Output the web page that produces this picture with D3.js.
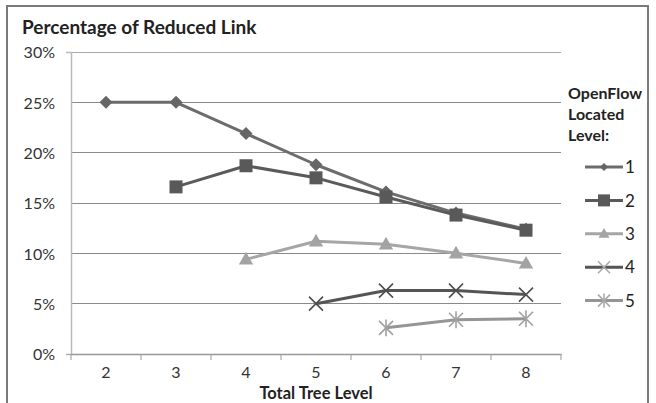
<!DOCTYPE html>
<html>
<head>
<meta charset="utf-8">
<script src="https://cdn.jsdelivr.net/npm/d3@7"></script>
<style>
  body { margin: 0; background: #fff; }
  text { font-family: Lato, "Open Sans", sans-serif; fill: #222; }
  .title { font-weight: bold; font-size: 19px; }
  .axisLabel { font-weight: bold; font-size: 16.5px; }
  .tickLabel { font-size: 16px; fill: #333; }
  .legendTitle { font-weight: bold; font-size: 16px; }
  .legendLabel { font-size: 17px; }
</style>
</head>
<body>
<div id="chart"></div>
<script>
// data
const levels = ["2", "3", "4", "5", "6", "7", "8"];
const seriesNames = ["1", "2", "3", "4", "5"];
const level1 = [25.0, 25.0, 21.9, 18.8, 16.1, 14.0, 12.4];
const level2 = [null, 16.6, 18.7, 17.5, 15.6, 13.8, 12.3];
const level3 = [null, null, 9.4, 11.2, 10.9, 10.0, 9.0];
const level4 = [null, null, null, 5.0, 6.3, 6.3, 5.9];
const level5 = [null, null, null, null, 2.6, 3.4, 3.5];
const yTicks = [0, 5, 10, 15, 20, 25, 30];

const series = [level1, level2, level3, level4, level5];
const lineColors = ["#6c6c6c", "#5a5a5a", "#a6a6a6", "#555555", "#959595"];
const markColors = ["#666666", "#595959", "#a3a3a3", "#4e4e4e", "#a0a0a0"];
const symbols = ["diamond", "square", "triangle", "x", "asterisk"];

const W = 656, H = 403;
const plot = {left: 71, right: 561, top: 52, bottom: 354};

const svg = d3.select("#chart").append("svg")
    .attr("width", W)
    .attr("height", H);

// outer frame
svg.append("rect")
    .attr("x", 7).attr("y", 6)
    .attr("width", 641).attr("height", 420)
    .attr("fill", "none")
    .attr("stroke", "#7a7a7a")
    .attr("stroke-width", 2);

svg.append("text")
    .attr("class", "title")
    .attr("x", 22)
    .attr("y", 34)
    .text("Percentage of Reduced Link");

const x = d3.scaleBand()
    .domain(levels)
    .range([plot.left, plot.right]);

const y = d3.scaleLinear()
    .domain([0, 30])
    .range([plot.bottom, plot.top]);

// grid lines
svg.selectAll("line.grid").data(yTicks.filter(d => d > 0))
    .enter()
    .append("line")
    .attr("class", "grid")
    .attr("x1", plot.left)
    .attr("x2", plot.right)
    .attr("y1", d => y(d))
    .attr("y2", d => y(d))
    .attr("stroke", d => d === 30 ? "#aaa" : "#8a8a8a")
    .attr("stroke-width", 1)
    .attr("shape-rendering", "crispEdges");

// y axis
const yAxis = svg.append("g")
    .attr("transform", "translate(" + plot.left + ",0)")
    .call(d3.axisLeft(y).tickValues(yTicks).tickSize(5).tickPadding(11)
        .tickFormat(d => d + "%"));
yAxis.select(".domain").attr("stroke", "#bbb").attr("stroke-width", 1.5);
yAxis.selectAll(".tick line").attr("stroke", "#aaa").attr("x2", d => d === 0 ? -5 : 0);
yAxis.selectAll(".tick text").attr("class", "tickLabel").attr("dy", "0.36em");

// x axis
const xAxis = svg.append("g")
    .attr("transform", "translate(0," + plot.bottom + ")")
    .call(d3.axisBottom(x).tickSize(0).tickPadding(13));
xAxis.select(".domain").attr("stroke", "#999").attr("stroke-width", 1.5);
xAxis.selectAll(".tick text").attr("class", "tickLabel");

// tick marks between categories
const bounds = levels.map(d => x(d)).concat([x(levels[levels.length - 1]) + x.bandwidth()]);
xAxis.selectAll("line.sep").data(bounds)
    .enter()
    .append("line")
    .attr("class", "sep")
    .attr("x1", d => d).attr("x2", d => d)
    .attr("y1", 0).attr("y2", 6)
    .attr("stroke", "#999");

svg.append("text")
    .attr("class", "axisLabel")
    .attr("x", (plot.left + plot.right) / 2)
    .attr("y", 399)
    .attr("text-anchor", "middle")
    .text("Total Tree Level");

// marker drawing
function drawMarker(g, type, color, s) {
    if (type === "diamond") {
        g.append("path").attr("d", `M0,${-s}L${s},0L0,${s}L${-s},0Z`).attr("fill", color);
    } else if (type === "square") {
        g.append("rect").attr("x", -s).attr("y", -s).attr("width", 2 * s).attr("height", 2 * s).attr("fill", color);
    } else if (type === "triangle") {
        g.append("path").attr("d", `M0,${-s * 1.15}L${s * 1.1},${s * 0.8}L${-s * 1.1},${s * 0.8}Z`).attr("fill", color);
    } else if (type === "x") {
        g.append("path").attr("d", `M${-s},${-s}L${s},${s}M${-s},${s}L${s},${-s}`)
            .attr("stroke", color).attr("stroke-width", 1.6);
    } else if (type === "asterisk") {
        g.append("path").attr("d", `M${-s},${-s}L${s},${s}M${-s},${s}L${s},${-s}M0,${-s * 1.2}L0,${s * 1.2}`)
            .attr("stroke", color).attr("stroke-width", 1.6);
    }
}

const markSize = [6.5, 6.5, 6.5, 7, 7];

const line = d3.line()
    .defined(d => d.v !== null)
    .x(d => x(d.k) + x.bandwidth() / 2)
    .y(d => y(d.v));

series.forEach((vals, si) => {
    const pts = vals.map((v, i) => ({k: levels[i], v: v}));
    svg.append("path")
        .datum(pts)
        .attr("fill", "none")
        .attr("stroke", lineColors[si])
        .attr("stroke-width", 3)
        .attr("stroke-linejoin", "round")
        .attr("d", line);

    pts.filter(d => d.v !== null).forEach(d => {
        const g = svg.append("g")
            .attr("transform", "translate(" + (x(d.k) + x.bandwidth() / 2) + "," + y(d.v) + ")");
        drawMarker(g, symbols[si], markColors[si], markSize[si]);
    });
});

// legend
const legendTitle = ["OpenFlow", "Located", "Level:"];
svg.selectAll("text.legendTitle").data(legendTitle)
    .enter()
    .append("text")
    .attr("class", "legendTitle")
    .attr("x", 568)
    .attr("y", (d, i) => 99 + i * 21)
    .text(d => d);

const legend = svg.selectAll("g.legendItem").data(seriesNames)
    .enter()
    .append("g")
    .attr("class", "legendItem")
    .attr("transform", (d, i) => "translate(0," + (167 + i * 33.4) + ")");

legend.append("line")
    .attr("x1", 585).attr("x2", 623)
    .attr("y1", 0).attr("y2", 0)
    .attr("stroke", (d, i) => lineColors[i])
    .attr("stroke-width", 3);

legend.each(function(d, i) {
    const g = d3.select(this).append("g").attr("transform", "translate(604,0)");
    const sz = [4, 6, 5, 6, 6][i];
    drawMarker(g, symbols[i], i > 2 ? "#aaa" : markColors[i], sz);
});

legend.append("text")
    .attr("class", "legendLabel")
    .attr("x", 625)
    .attr("y", 0)
    .attr("dy", "0.36em")
    .text(d => d);
</script>
</body>
</html>
